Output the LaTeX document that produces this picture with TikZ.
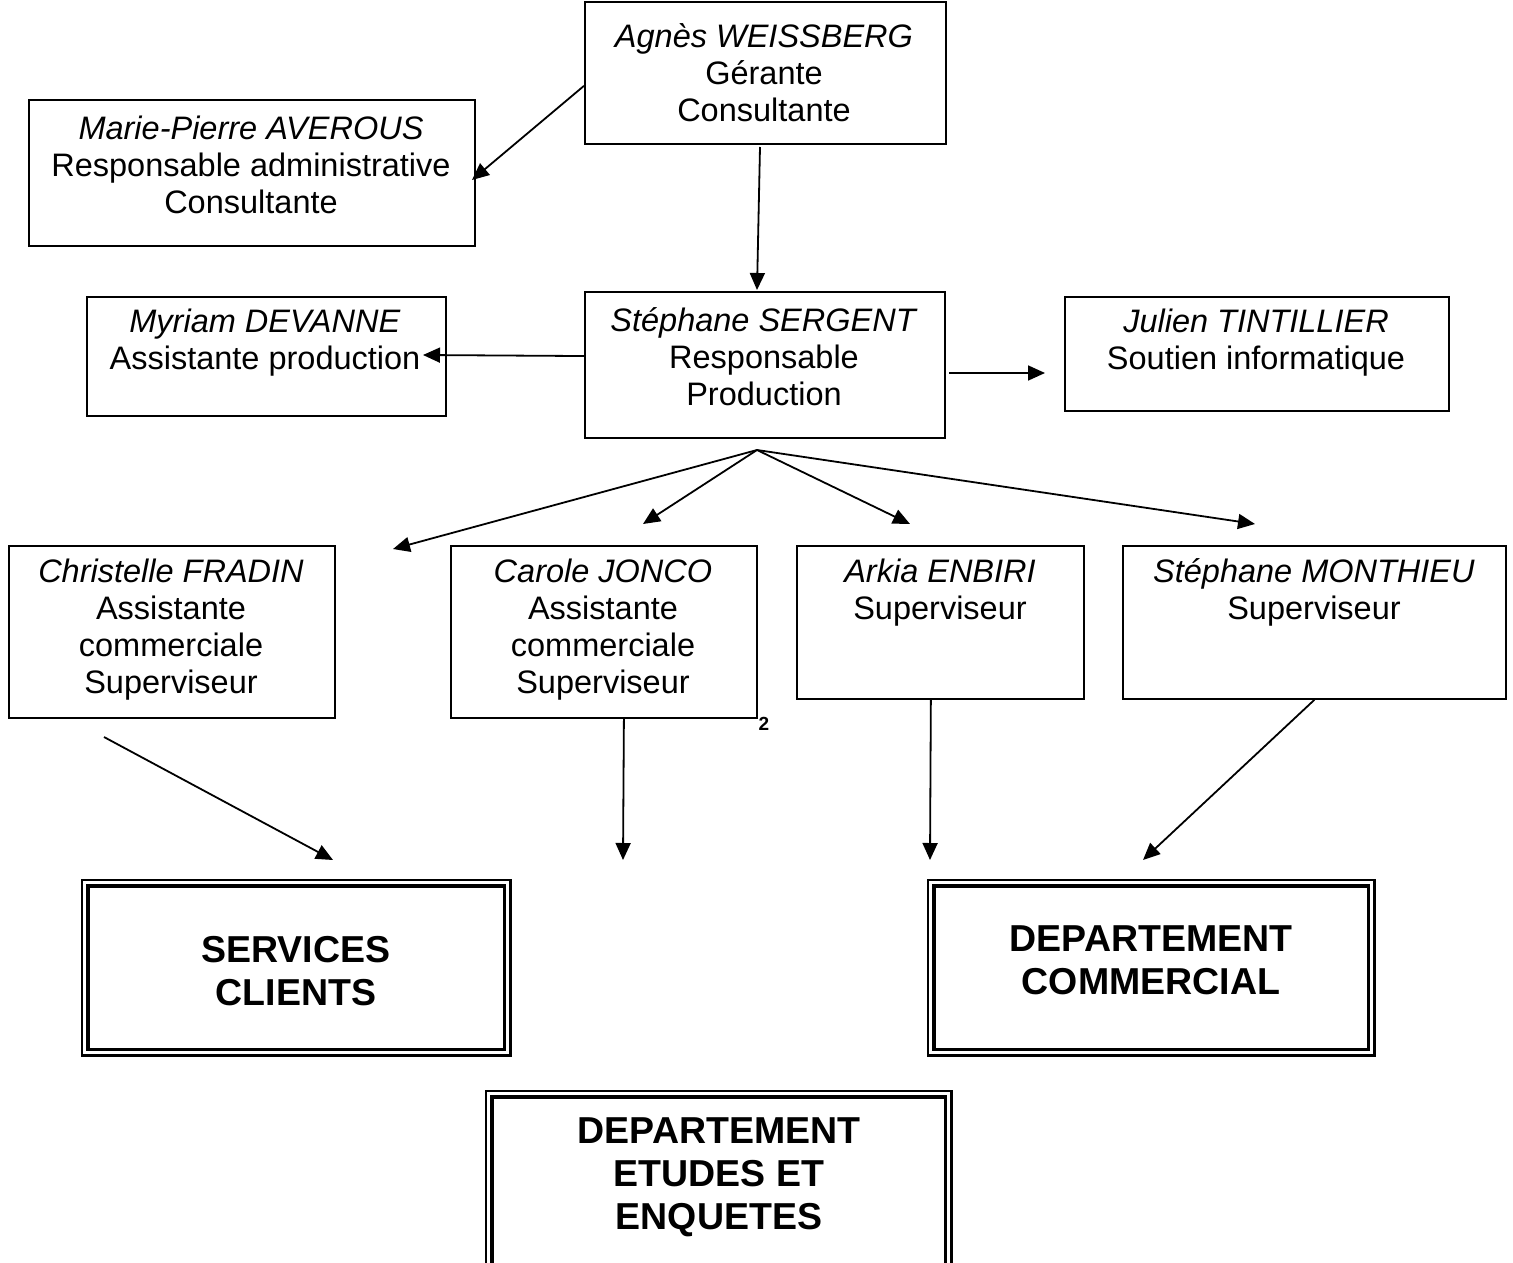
\documentclass[tikz,border=0pt]{standalone}
\usepackage{fontspec}
\setmainfont{Liberation Sans}
\usetikzlibrary{arrows.meta,calc}
\begin{document}
\begin{tikzpicture}[x=1pt,y=1pt,
 box/.style={draw,line width=1.8pt,rectangle,inner sep=0,anchor=north west},
 txt/.style={align=center,inner sep=0,font=\fontsize{32.5}{37}\selectfont},
 dtxt/.style={align=center,inner sep=0,font=\fontsize{37.5}{43}\selectfont\bfseries},
 outerline/.style={line width=2.2pt},
 innerline/.style={line width=3.4pt},
 arr/.style={line width=1.8pt,-{Triangle[length=17pt,width=15pt]}}
]
\useasboundingbox (0,0) rectangle (1513,-1263);

% boxes
\node[box,minimum width=361,minimum height=142] (agnes) at (584,-1) {};
\node[box,minimum width=446,minimum height=146] (marie) at (28,-99) {};
\node[box,minimum width=359,minimum height=119] (myriam) at (86,-296) {};
\node[box,minimum width=360,minimum height=146] (sergent) at (584,-291) {};
\node[box,minimum width=384,minimum height=114] (julien) at (1064,-296) {};
\node[box,minimum width=326,minimum height=172] (christelle) at (8,-545) {};
\node[box,minimum width=306,minimum height=172] (carole) at (450,-545) {};
\node[box,minimum width=287,minimum height=153] (arkia) at (796,-545) {};
\node[box,minimum width=383,minimum height=153] (monthieu) at (1122,-545) {};

% texts
\node[txt] (agnesT) at (764,-73) {\textit{Agnès WEISSBERG}\\Gérante\\Consultante};
\node[txt] (marieT) at (251,-165) {\textit{Marie-Pierre AVEROUS}\\Responsable administrative\\Consultante};
\node[txt] (myriamT) at (265,-343) {\textit{Myriam DEVANNE}\\Assistante production};
\node[txt] (sergentT) at (764,-357) {\textit{Stéphane SERGENT}\\Responsable\\Production};
\node[txt] (julienT) at (1256,-343) {\textit{Julien TINTILLIER}\\Soutien informatique};
\node[txt] (christelleT) at (171,-629.5) {\textit{Christelle FRADIN}\\Assistante\\commerciale\\Superviseur};
\node[txt] (caroleT) at (603,-629.5) {\textit{Carole JONCO}\\Assistante\\commerciale\\Superviseur};
\node[txt] (arkiaT) at (940,-592.5) {\textit{Arkia ENBIRI}\\Superviseur};
\node[txt] (monthieuT) at (1314,-592.5) {\textit{Stéphane MONTHIEU}\\Superviseur};
\node[inner sep=0,font=\fontsize{19}{19}\selectfont\bfseries] (two) at (764,-724) {2};

% double-bordered department boxes
\node[inner sep=0,minimum width=416,minimum height=163,anchor=north west] (services) at (88,-886) {};
\draw[innerline] (services.north west) rectangle (services.south east);
\draw[outerline] ($(services.north west)+(-6,6)$) rectangle ($(services.south east)+(6,-6)$);
\node[dtxt] (servicesT) at (296,-971) {SERVICES\\CLIENTS};

\node[inner sep=0,minimum width=434,minimum height=163,anchor=north west] (commercial) at (934,-886) {};
\draw[innerline] (commercial.north west) rectangle (commercial.south east);
\draw[outerline] ($(commercial.north west)+(-6,6)$) rectangle ($(commercial.south east)+(6,-6)$);
\node[dtxt] (commercialT) at (1151,-960) {DEPARTEMENT\\COMMERCIAL};

\node[inner sep=0,minimum width=453,minimum height=180,anchor=north west] (etudes) at (492,-1097) {};
\draw[innerline] (etudes.north west) rectangle (etudes.south east);
\draw[outerline] ($(etudes.north west)+(-6,6)$) rectangle ($(etudes.south east)+(6,-6)$);
\node[dtxt] (etudesT) at (719,-1177) {DEPARTEMENT\\ETUDES ET\\ENQUETES};

% connector end points
\coordinate (agL) at ($(agnes.north west)!0.59!(agnes.south west)$);
\coordinate (marieE) at (472,-180);
\coordinate (agB) at (760,-147);
\coordinate (sergTop) at (757,-290);
\coordinate (sgL) at ($(sergent.north west)!0.44!(sergent.south west)$);
\coordinate (myriamE) at (423,-355);
\coordinate (sgR) at (949,-373);
\coordinate (julienE) at (1045,-373);
\coordinate (hub) at (757,-450);
\coordinate (e1) at (393,-549);
\coordinate (e2) at (643,-524);
\coordinate (e3) at (910,-524);
\coordinate (e4) at (1255,-524);
\coordinate (chS) at (104,-737);
\coordinate (svE) at (333,-860);
\coordinate (caS) at ($(carole.south west)!0.565!(carole.south east)$);
\coordinate (caE) at (623,-860);
\coordinate (arS) at ($(arkia.south west)!0.467!(arkia.south east)$);
\coordinate (arE) at (930,-860);
\coordinate (coE) at (1143,-860);

% connectors
\draw[arr] (agL) -- (marieE);
\draw[arr] (agB) -- (sergTop);
\draw[arr] (sgL) -- (myriamE);
\draw[arr] (sgR) -- (julienE);
\draw[arr] (hub) -- (e1);
\draw[arr] (hub) -- (e2);
\draw[arr] (hub) -- (e3);
\draw[arr] (hub) -- (e4);
\draw[arr] (chS) -- (svE);
\draw[arr] (caS) -- (caE);
\draw[arr] (arS) -- (arE);
\draw[arr] (monthieu.south) -- (coE);
\end{tikzpicture}
\end{document}
